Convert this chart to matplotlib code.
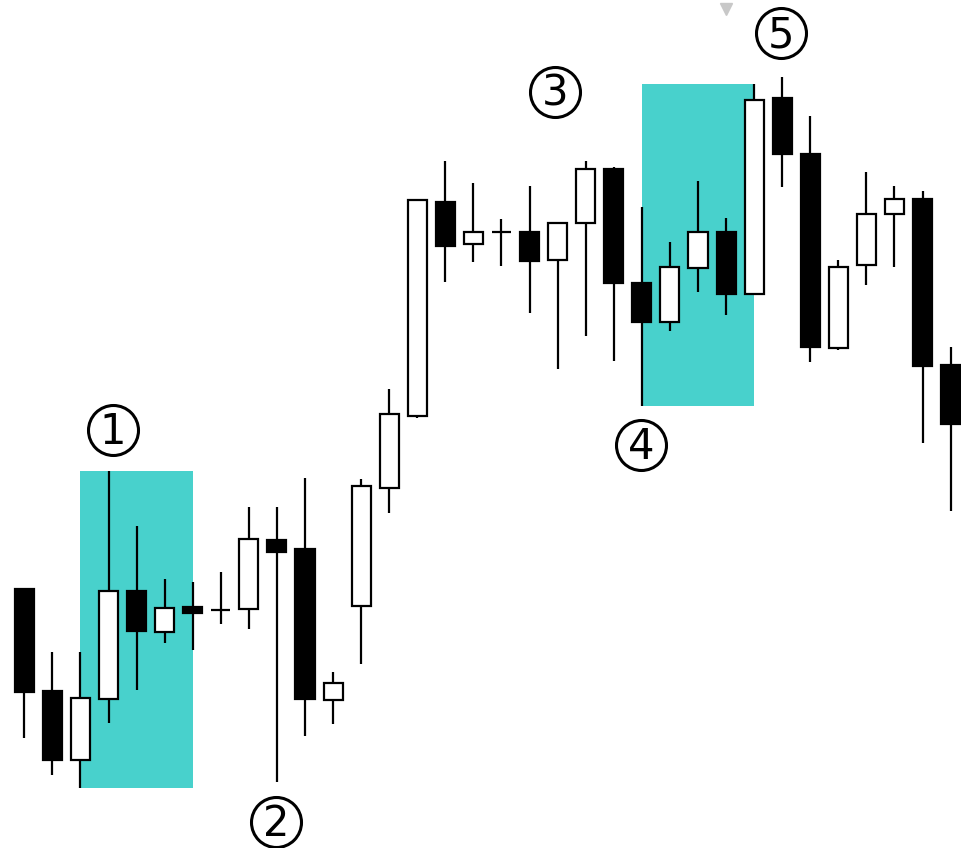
import numpy as np
import matplotlib
matplotlib.use("Agg")
import matplotlib.pyplot as plt

# candle data (open, high, low, close), one entry per bar
opens  = [259, 157,  88, 149, 257, 216, 241, 238, 239, 308, 299, 148,
          242, 360, 432, 646, 604, 616, 616, 588, 625, 679, 565, 526,
          580, 616, 554, 750, 694, 500, 583, 634, 649, 483]
highs  = [259, 196, 196, 377, 322, 269, 266, 276, 341, 341, 370, 176,
          369, 459, 648, 687, 665, 629, 662, 625, 687, 681, 641, 606,
          667, 630, 764, 771, 732, 588, 676, 662, 657, 501]
lows   = [110,  73,  60, 125, 158, 205, 198, 224, 219,  66, 112, 124,
          184, 335, 430, 566, 586, 582, 535, 479, 512, 487, 442, 517,
          556, 533, 553, 661, 486, 498, 563, 581, 405, 337]
closes = [156,  88, 150, 257, 217, 240, 235, 238, 309, 296, 149, 165,
          362, 434, 648, 602, 616, 616, 587, 625, 679, 565, 526, 581,
          616, 554, 748, 694, 501, 581, 634, 649, 482, 424]

# highlighted ranges (first bar, last bar)
zones = [(2, 6), (22, 26)]

# numbered markers (bar position, price, label)
label_x = [3.16, 8.96, 18.9, 21.97, 26.96]
label_y = [418, 26, 756, 403, 815]
label_txt = ["1", "2", "3", "4", "5"]

x = np.arange(len(opens))
o = np.array(opens); c = np.array(closes)
h = np.array(highs); l = np.array(lows)
up = c >= o

fig = plt.figure(figsize=(9.61, 8.48), dpi=100)
ax = fig.add_axes([0, 0, 1, 1])

# zones
for a, b in zones:
    lo = l[a:b + 1].min()
    hi = h[a:b + 1].max()
    ax.add_patch(plt.Rectangle((a, lo), b - a, hi - lo,
                               facecolor="#48D1CC", edgecolor="none", zorder=0))

# wicks
ax.vlines(x, l, h, color="black", linewidth=1.6, zorder=1)

# bodies
bottom = np.minimum(o, c)
height = np.abs(c - o)
ax.bar(x[up], height[up], bottom=bottom[up], width=0.68,
       facecolor="white", edgecolor="black", linewidth=1.6, zorder=2)
ax.bar(x[~up], height[~up], bottom=bottom[~up], width=0.68,
       facecolor="black", edgecolor="black", linewidth=1.6, zorder=2)

# circled numbers
ax.plot(label_x, label_y, "o", markersize=36, markerfacecolor="white",
        markeredgecolor="black", markeredgewidth=2.2, zorder=3)
for lx, ly, t in zip(label_x, label_y, label_txt):
    ax.text(lx, ly - 2, t, fontsize=30, ha="center", va="center",
            color="black", zorder=4)

# small grey marker at the top
ax.plot([25.0], [839], "v", color="#c8c8c8", markersize=8, zorder=3)

ax.set_xlim(-0.866, 33.37)
ax.set_ylim(0, 848)
ax.axis("off")

fig.savefig("out.png", dpi=100, facecolor="white")
